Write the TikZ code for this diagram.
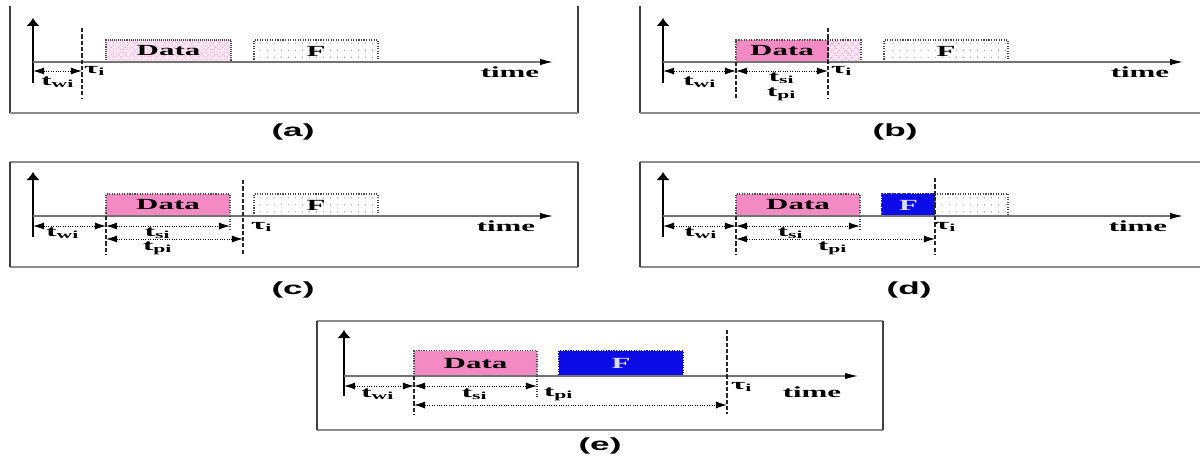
\documentclass[tikz,border=0pt]{standalone}
\usepackage{fontspec}
\setmainfont{Liberation Serif}
\newfontfamily\capfont{Liberation Sans}
\usetikzlibrary{positioning,arrows.meta,patterns.meta}
\definecolor{datapink}{RGB}{244,138,196}
\definecolor{fblue}{RGB}{12,12,232}
\newcommand{\wtext}[1]{\scalebox{2}[1]{#1}}
\tikzset{
  frameline/.style={draw=black!45, line width=1pt},
  frameside/.style={draw=black!75, line width=1.3pt},
  taxis/.style={draw=black!55, line width=0.8pt, -{Latex[length=3.2mm,width=1.6mm,black]}},
  vaxis/.style={line width=1.2pt, -{Latex[length=2mm,width=3.4mm]}},
  taumark/.style={black!85, line width=0.9pt, dash pattern=on 3pt off 1.5pt},
  edgemark/.style={black!75, densely dotted, line width=0.8pt},
  dimarrow/.style={densely dotted, line width=0.7pt, {Latex[length=2.8mm,width=1.8mm]}-{Latex[length=2.8mm,width=1.8mm]}},
  boxbase/.style={draw=black!70, densely dotted, line width=0.8pt, inner sep=0pt, outer sep=0pt,
    anchor=south west, minimum height=0.55cm, font=\fontsize{11}{12}\selectfont\bfseries},
  datahatch/.style={boxbase, preaction={fill=datapink!20},
    pattern={Hatch[distance=3.5pt, angle=45, line width=0.4pt]}, pattern color=datapink},
  datasolid/.style={boxbase, fill=datapink},
  fdots/.style={boxbase, fill=white, postaction={pattern={Dots[distance=5pt, radius=0.4pt]}, pattern color=black!55}},
  fsolid/.style={boxbase, fill=fblue, draw=fblue, text=white!85!fblue},
  lbl/.style={inner sep=1pt, font=\fontsize{11}{12}\selectfont\bfseries},
  caption/.style={inner sep=1pt, font=\capfont\fontsize{12.5}{14}\selectfont\bfseries}
}
\begin{document}
\begin{tikzpicture}[x=0.025cm, y=-0.025cm, >=Latex]
  \useasboundingbox (0,0) rectangle (1200,458);

  % (a)
  \draw[frameside] (10,6) -- (10,113);
  \draw[frameside] (578,6) -- (578,113);
  \draw[frameline] (10,113) -- (578,113);
  \coordinate (a-o) at (33,62);
  \coordinate (a-up) at (33,18);
  \coordinate (a-dn) at (33,83);
  \coordinate (a-end) at (553,62);
  \node[datahatch, minimum width=3.125cm] (a-data) at (106,62) {\wtext{Data}};
  \node[fdots, minimum width=3.1cm] (a-f) at (254,62) {\wtext{F}};
  \draw[vaxis] (a-dn) -- (a-up);
  \draw[taxis] (a-o) -- (a-end);
  \coordinate (a-tt) at (82,28);
  \coordinate (a-tb) at (82,98);
  \draw[taumark] (a-tt) -- (a-tb);
  \coordinate (a-w1) at (33,71);
  \coordinate (a-w2) at (82,71);
  \draw[dimarrow] (a-w1) -- (a-w2);
  \node[lbl] (a-twi) at (58,82) {\wtext{t\textsubscript{wi}}};
  \node[lbl] (a-tau) at (95,71) {\wtext{τ\textsubscript{i}}};
  \node[lbl] (a-time) at (510,72) {\wtext{time}};
  \node[caption] (a-cap) at (293,132) {\wtext{(a)}};

  % (b)
  \draw[frameside] (640,6) -- (640,113);
  \draw[frameline] (640,113) -- (1205,113);
  \coordinate (b-o) at (663,62);
  \coordinate (b-up) at (663,18);
  \coordinate (b-dn) at (663,83);
  \coordinate (b-end) at (1183,62);
  \node[datahatch, minimum width=3.125cm] (b-hatch) at (736,62) {};
  \node[datasolid, minimum width=2.3cm] (b-data) at (736,62) {\wtext{Data}};
  \node[fdots, minimum width=3.1cm] (b-f) at (884,62) {\wtext{F}};
  \draw[vaxis] (b-dn) -- (b-up);
  \draw[taxis] (b-o) -- (b-end);
  \coordinate (b-tt) at (828,28);
  \coordinate (b-tb) at (828,98);
  \coordinate (b-st) at (736,62);
  \coordinate (b-sb) at (736,98);
  \draw[taumark] (b-tt) -- (b-tb);
  \draw[taumark] (b-st) -- (b-sb);
  \coordinate (b-w1) at (663,71);
  \coordinate (b-w2) at (736,71);
  \coordinate (b-s2) at (828,71);
  \draw[dimarrow] (b-w1) -- (b-w2);
  \draw[dimarrow] (b-w2) -- (b-s2);
  \node[lbl] (b-twi) at (700,82) {\wtext{t\textsubscript{wi}}};
  \node[lbl] (b-tsi) at (782,78) {\wtext{t\textsubscript{si}}};
  \node[lbl] (b-tpi) at (782,94) {\wtext{t\textsubscript{pi}}};
  \node[lbl] (b-tau) at (842,71) {\wtext{τ\textsubscript{i}}};
  \node[lbl] (b-time) at (1140,72) {\wtext{time}};
  \node[caption] (b-cap) at (895,132) {\wtext{(b)}};

  % (c)
  \draw[frameline] (10,162) -- (578,162);
  \draw[frameline] (10,267) -- (578,267);
  \draw[frameside] (10,162) -- (10,267);
  \draw[frameside] (578,162) -- (578,267);
  \coordinate (c-o) at (33,216);
  \coordinate (c-up) at (33,172);
  \coordinate (c-dn) at (33,237);
  \coordinate (c-end) at (553,216);
  \node[datasolid, minimum width=3.1cm] (c-data) at (106,216) {\wtext{Data}};
  \node[fdots, minimum width=3.1cm] (c-f) at (254,216) {\wtext{F}};
  \draw[vaxis] (c-dn) -- (c-up);
  \draw[taxis] (c-o) -- (c-end);
  \coordinate (c-tt) at (243,180);
  \coordinate (c-tb) at (243,254);
  \coordinate (c-st) at (106,216);
  \coordinate (c-sb) at (106,254);
  \coordinate (c-et) at (230,216);
  \coordinate (c-eb) at (230,229);
  \draw[taumark] (c-tt) -- (c-tb);
  \draw[taumark] (c-st) -- (c-sb);
  \draw[edgemark] (c-et) -- (c-eb);
  \coordinate (c-w1) at (33,226);
  \coordinate (c-w2) at (106,226);
  \coordinate (c-s2) at (230,226);
  \coordinate (c-p1) at (106,239);
  \coordinate (c-p2) at (243,239);
  \draw[dimarrow] (c-w1) -- (c-w2);
  \draw[dimarrow] (c-w2) -- (c-s2);
  \draw[dimarrow] (c-p1) -- (c-p2);
  \node[lbl] (c-twi) at (63,233) {\wtext{t\textsubscript{wi}}};
  \node[lbl] (c-tsi) at (158,233) {\wtext{t\textsubscript{si}}};
  \node[lbl] (c-tpi) at (158,248) {\wtext{t\textsubscript{pi}}};
  \node[lbl] (c-tau) at (262,227) {\wtext{τ\textsubscript{i}}};
  \node[lbl] (c-time) at (506,226) {\wtext{time}};
  \node[caption] (c-cap) at (293,290) {\wtext{(c)}};

  % (d)
  \draw[frameline] (640,162) -- (1205,162);
  \draw[frameline] (640,267) -- (1205,267);
  \draw[frameside] (640,162) -- (640,267);
  \coordinate (d-o) at (663,216);
  \coordinate (d-up) at (663,172);
  \coordinate (d-dn) at (663,237);
  \coordinate (d-end) at (1183,216);
  \node[datasolid, minimum width=3.1cm] (d-data) at (736,216) {\wtext{Data}};
  \node[fdots, minimum width=3.15cm] (d-rest) at (882,216) {};
  \node[fsolid, minimum width=1.325cm] (d-f) at (882,216) {\wtext{F}};
  \draw[vaxis] (d-dn) -- (d-up);
  \draw[taxis] (d-o) -- (d-end);
  \coordinate (d-tt) at (935,178);
  \coordinate (d-tb) at (935,254);
  \coordinate (d-st) at (736,216);
  \coordinate (d-sb) at (736,254);
  \coordinate (d-et) at (860,216);
  \coordinate (d-eb) at (860,229);
  \draw[taumark] (d-tt) -- (d-tb);
  \draw[taumark] (d-st) -- (d-sb);
  \draw[edgemark] (d-et) -- (d-eb);
  \coordinate (d-w1) at (663,226);
  \coordinate (d-w2) at (736,226);
  \coordinate (d-s2) at (860,226);
  \coordinate (d-p1) at (736,239);
  \coordinate (d-p2) at (935,239);
  \draw[dimarrow] (d-w1) -- (d-w2);
  \draw[dimarrow] (d-w2) -- (d-s2);
  \draw[dimarrow] (d-p1) -- (d-p2);
  \node[lbl] (d-twi) at (701,233) {\wtext{t\textsubscript{wi}}};
  \node[lbl] (d-tsi) at (791,233) {\wtext{t\textsubscript{si}}};
  \node[lbl] (d-tpi) at (833,248) {\wtext{t\textsubscript{pi}}};
  \node[lbl] (d-tau) at (946,227) {\wtext{τ\textsubscript{i}}};
  \node[lbl] (d-time) at (1138,226) {\wtext{time}};
  \node[caption] (d-cap) at (909,290) {\wtext{(d)}};

  % (e)
  \draw[frameline] (317,321) -- (883,321);
  \draw[frameline] (317,430) -- (883,430);
  \draw[frameside] (317,321) -- (317,430);
  \draw[frameside] (883,321) -- (883,430);
  \coordinate (e-o) at (344,376);
  \coordinate (e-up) at (344,330);
  \coordinate (e-dn) at (344,396);
  \coordinate (e-end) at (858,376);
  \node[datasolid, minimum width=3.075cm, minimum height=0.63cm] (e-data) at (414,376) {\wtext{Data}};
  \node[fsolid, minimum width=3.1cm, minimum height=0.63cm] (e-f) at (559,376) {\wtext{F}};
  \draw[vaxis] (e-dn) -- (e-up);
  \draw[taxis] (e-o) -- (e-end);
  \coordinate (e-tt) at (727,330);
  \coordinate (e-tb) at (727,414);
  \coordinate (e-st) at (414,376);
  \coordinate (e-sb) at (414,414);
  \coordinate (e-et) at (537,376);
  \coordinate (e-eb) at (537,398);
  \draw[taumark] (e-tt) -- (e-tb);
  \draw[taumark] (e-st) -- (e-sb);
  \draw[edgemark] (e-et) -- (e-eb);
  \coordinate (e-w1) at (344,386);
  \coordinate (e-w2) at (414,386);
  \coordinate (e-s2) at (537,386);
  \coordinate (e-p1) at (414,405);
  \coordinate (e-p2) at (727,405);
  \draw[dimarrow] (e-w1) -- (e-w2);
  \draw[dimarrow] (e-w2) -- (e-s2);
  \draw[dimarrow] (e-p1) -- (e-p2);
  \node[lbl] (e-twi) at (378,394) {\wtext{t\textsubscript{wi}}};
  \node[lbl] (e-tsi) at (475,394) {\wtext{t\textsubscript{si}}};
  \node[lbl] (e-tpi) at (559,394) {\wtext{t\textsubscript{pi}}};
  \node[lbl] (e-tau) at (742,387) {\wtext{τ\textsubscript{i}}};
  \node[lbl] (e-time) at (812,392) {\wtext{time}};
  \node[caption] (e-cap) at (600,446) {\wtext{(e)}};
\end{tikzpicture}
\end{document}
